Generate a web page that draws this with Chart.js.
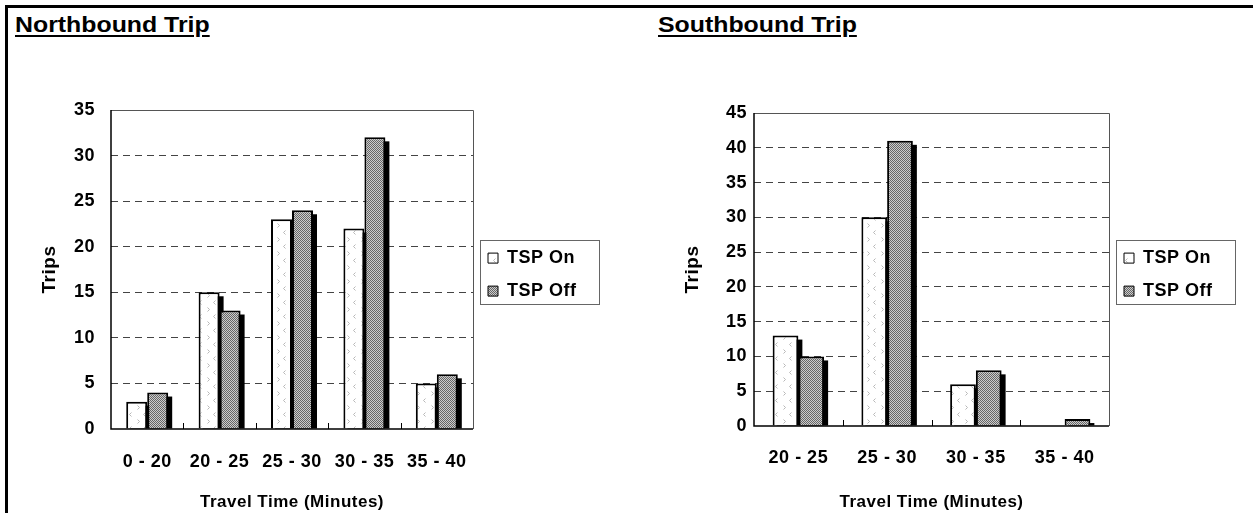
<!DOCTYPE html>
<html>
<head>
<meta charset="utf-8">
<script src="https://cdn.jsdelivr.net/npm/chart.js@4/dist/chart.umd.min.js"></script>
<style>
  html, body { margin: 0; padding: 0; background: #fff; }
  body { width: 1253px; height: 513px; position: relative; overflow: hidden; }
  #frame { position: absolute; left: 5px; top: 5px; width: 1250px; height: 510px;
           border-left: 3px solid #000; border-top: 3px solid #000; }
  .ttl { position: absolute; top: 12px; font: bold 22px 'Liberation Sans', Arial, sans-serif;
         line-height: 25px; text-decoration: underline; text-decoration-thickness: 2px;
         text-underline-offset: 3px; transform: scaleX(1.13); transform-origin: left top;
         white-space: nowrap; }
  canvas { position: absolute; }
</style>
</head>
<body>
<div id="frame"></div>
<div class="ttl" style="left:15px">Northbound Trip</div>
<div class="ttl" style="left:658px">Southbound Trip</div>
<canvas id="north" width="600" height="473" style="left:8px;top:40px"></canvas>
<canvas id="south" width="613" height="473" style="left:640px;top:40px"></canvas>
<script>
// --- data ---
const northCats = ['0 - 20', '20 - 25', '25 - 30', '30 - 35', '35 - 40'];
const northOn   = [3, 15, 23, 22, 5];
const northOff  = [4, 13, 24, 32, 6];
const southCats = ['20 - 25', '25 - 30', '30 - 35', '35 - 40'];
const southOn   = [13, 30, 6, 0];
const southOff  = [10, 41, 8, 1];
const seriesNames = ['TSP On', 'TSP Off'];
const northMax = 35, southMax = 45, yStep = 5;
const yTitle = 'Trips';
const xTitle = 'Travel Time (Minutes)';

Chart.defaults.font.family = "'Liberation Sans', Arial, sans-serif";
Chart.defaults.font.weight = 'bold';
Chart.defaults.font.size = 18;
Chart.defaults.color = '#000';

// white with sparse grey chevrons
function onPattern(ctx) {
  const c = document.createElement('canvas');
  c.width = 14; c.height = 14;
  const g = c.getContext('2d');
  g.fillStyle = '#fff'; g.fillRect(0, 0, 14, 14);
  g.strokeStyle = '#b8b8b8'; g.lineWidth = 1;
  g.beginPath();
  g.moveTo(3.5, 1.5); g.lineTo(5.5, 3.5); g.lineTo(3.5, 5.5);     // >
  g.moveTo(11.5, 8.5); g.lineTo(9.5, 10.5); g.lineTo(11.5, 12.5); // <
  g.stroke();
  return ctx.createPattern(c, 'repeat');
}
// fine grey dot screen
function offPattern(ctx) {
  const c = document.createElement('canvas');
  c.width = 2; c.height = 2;
  const g = c.getContext('2d');
  g.fillStyle = '#cccccc'; g.fillRect(0, 0, 2, 2);
  g.fillStyle = '#666666'; g.fillRect(0, 0, 1, 1); g.fillRect(1, 1, 1, 1);
  return ctx.createPattern(c, 'repeat');
}

// black drop shadow behind each bar
const barShadow = {
  id: 'barShadow',
  beforeDatasetsDraw(chart) {
    const { ctx, chartArea: a } = chart;
    ctx.save();
    ctx.beginPath();
    ctx.rect(a.left, a.top, a.right - a.left, a.bottom - a.top);
    ctx.clip();
    ctx.fillStyle = '#000';
    chart.data.datasets.forEach((ds, i) => {
      chart.getDatasetMeta(i).data.forEach(bar => {
        const h = bar.base - bar.y - 4;
        if (h <= 0) return;
        ctx.fillRect(bar.x - bar.width / 2 + 4, bar.y + 4, bar.width, h);
      });
    });
    ctx.restore();
  }
};

// plot box, axis lines, inner category ticks, legend box
const plotFrame = {
  id: 'plotFrame',
  beforeDraw(chart) { chart.ctx.letterSpacing = '0.5px'; },
  afterDatasetsDraw(chart) {
    const { ctx, chartArea: a, scales: { x } } = chart;
    ctx.save();
    ctx.lineWidth = 1;
    ctx.strokeStyle = '#555';
    ctx.beginPath();
    ctx.moveTo(a.left, a.top + 0.5);
    ctx.lineTo(a.right + 0.5, a.top + 0.5);
    ctx.lineTo(a.right + 0.5, a.bottom);
    ctx.stroke();
    ctx.strokeStyle = '#000';
    ctx.lineWidth = 1.5;
    ctx.beginPath();
    ctx.moveTo(a.left, a.top);
    ctx.lineTo(a.left, a.bottom);
    ctx.lineTo(a.right, a.bottom);
    ctx.stroke();
    ctx.lineWidth = 1;
    const n = chart.data.labels.length;
    for (let i = 1; i < n; i++) {
      const px = Math.round((x.getPixelForValue(i - 1) + x.getPixelForValue(i)) / 2) + 0.5;
      ctx.beginPath();
      ctx.moveTo(px, a.bottom);
      ctx.lineTo(px, a.bottom - 6);
      ctx.stroke();
    }
    ctx.restore();
  },
  afterDraw(chart) {
    const hb = chart.legend && chart.legend.legendHitBoxes;
    if (!hb || !hb.length) return;
    const last = hb[hb.length - 1];
    const cy = (hb[0].top + last.top + last.height) / 2;
    const ctx = chart.ctx;
    ctx.save();
    ctx.strokeStyle = '#666';
    ctx.lineWidth = 1;
    ctx.strokeRect(Math.round(hb[0].left - 8) + 0.5, Math.round(cy - 35) + 0.5, 119, 64);
    ctx.restore();
  }
};

function makeChart(id, cats, on, off, max, lay) {
  const ctx = document.getElementById(id).getContext('2d');
  return new Chart(ctx, {
    type: 'bar',
    data: {
      labels: cats,
      datasets: [
        { label: seriesNames[0], data: on, backgroundColor: onPattern(ctx),
          borderColor: '#000', borderWidth: 2 },
        { label: seriesNames[1], data: off, backgroundColor: offPattern(ctx),
          borderColor: '#000', borderWidth: 2 }
      ]
    },
    options: {
      responsive: false,
      animation: false,
      datasets: { bar: { categoryPercentage: 0.58, barPercentage: 1 } },
      layout: { padding: { top: lay.top, right: lay.right, left: 0, bottom: 0 } },
      plugins: {
        tooltip: { enabled: false },
        legend: {
          position: 'right',
          align: 'center',
          fullSize: false,
          title: { display: true, text: ' ', font: { size: 6 }, padding: { top: 0, bottom: 3 } },
          labels: {
            boxWidth: 10, boxHeight: 10, padding: 15,
            font: { size: 18, weight: 'bold' },
            generateLabels: c => Chart.defaults.plugins.legend.labels.generateLabels(c)
              .map(l => Object.assign(l, { lineWidth: 1 }))
          }
        }
      },
      scales: {
        x: {
          grid: { display: false, drawTicks: false },
          border: { display: false },
          ticks: { padding: lay.xPad, font: { size: 18 } },
          title: { display: true, text: xTitle, font: { size: 17 }, padding: { top: lay.xTitlePad, bottom: 0 } },
          afterFit: s => { s.height = lay.xh; }
        },
        y: {
          min: 0, max: max,
          grid: {
            drawTicks: false, lineWidth: 1,
            color: c => (c.tick && (c.tick.value === 0 || c.tick.value === max)) ? 'rgba(0,0,0,0)' : '#444'
          },
          border: { display: false, dash: [7, 5] },
          ticks: { stepSize: yStep, padding: lay.yPad, font: { size: 18 } },
          title: { display: true, text: yTitle, font: { size: 19 }, padding: { top: lay.yTitlePad, bottom: 0 } },
          afterFit: s => { s.width = lay.yw; }
        }
      }
    },
    plugins: [barShadow, plotFrame]
  });
}

makeChart('north', northCats, northOn, northOff, northMax,
  { top: 70, right: 25, yw: 103, xh: 84, yPad: 16, xPad: 22, xTitlePad: 3, yTitlePad: 30 });
makeChart('south', southCats, southOn, southOff, southMax,
  { top: 73, right: 34, yw: 114, xh: 87, yPad: 7, xPad: 21, xTitlePad: 8, yTitlePad: 41 });
</script>
</body>
</html>
